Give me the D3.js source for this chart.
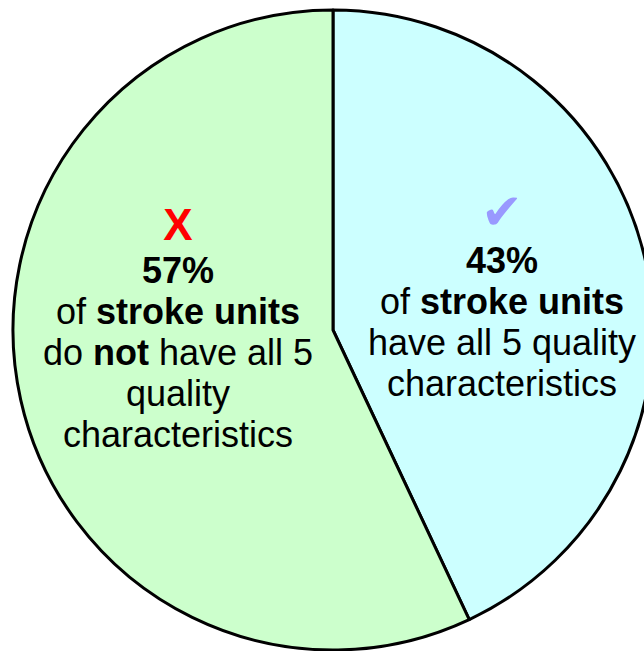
<!DOCTYPE html>
<html>
<head>
<meta charset="utf-8">
<script src="https://cdn.jsdelivr.net/npm/d3@7"></script>
<style>
  html, body { margin: 0; padding: 0; background: #ffffff; }
  svg { display: block; }
  text { font-family: "Liberation Sans", Arial, sans-serif; }
</style>
</head>
<body>
<svg id="chart" width="644" height="651"></svg>
<script>
// ---- data ----
const categories = ["have all 5", "do not have all 5"];
const values = [43, 57];
const colors = ["#ccffff", "#ccffcc"];
const icons = ["\u2714", "X"];
const iconColors = ["#9999ff", "#ff0000"];
// label lines: each line is a list of [text, bold]
const labelLines = [
  [
    [["43%", true]],
    [["of ", false], ["stroke units", true]],
    [["have all 5 quality", false]],
    [["characteristics", false]]
  ],
  [
    [["57%", true]],
    [["of ", false], ["stroke units", true]],
    [["do ", false], ["not", true], [" have all 5", false]],
    [["quality", false]],
    [["characteristics", false]]
  ]
];

// ---- layout ----
const cx = 333, cy = 330, R = 320;
const svg = d3.select("#chart");
const g = svg.append("g").attr("transform", `translate(${cx},${cy})`);

const pie = d3.pie().sort(null).value(d => d)(values);
const arc = d3.arc().innerRadius(0).outerRadius(R);

g.selectAll("path.slice")
  .data(pie)
  .join("path")
  .attr("class", "slice")
  .attr("d", arc)
  .attr("fill", (d, i) => colors[i])
  .attr("stroke", "#000")
  .attr("stroke-width", 3)
  .attr("stroke-linejoin", "round");

// label positions (absolute) per slice
const labelPos = [
  { x: 502, iconY: 229, iconSize: 50, firstBaseline: 273 },
  { x: 178, iconY: 240, iconSize: 44, firstBaseline: 283 }
];
const lineHeight = 41;
const fontSize = 36;

labelLines.forEach((lines, i) => {
  const p = labelPos[i];
  svg.append("text")
    .attr("x", p.x)
    .attr("y", p.iconY)
    .attr("text-anchor", "middle")
    .attr("font-size", p.iconSize)
    .attr("font-weight", "bold")
    .attr("fill", iconColors[i])
    .style("font-family", i === 0 ? "'DejaVu Sans', sans-serif" : "'Liberation Sans', Arial, sans-serif")
    .text(icons[i]);

  lines.forEach((segs, j) => {
    const t = svg.append("text")
      .attr("x", p.x)
      .attr("y", p.firstBaseline + j * lineHeight)
      .attr("text-anchor", "middle")
      .attr("font-size", fontSize)
      .attr("fill", "#000");
    segs.forEach(([s, b]) => {
      t.append("tspan")
        .attr("font-weight", b ? "bold" : "normal")
        .text(s);
    });
  });
});
</script>
</body>
</html>
